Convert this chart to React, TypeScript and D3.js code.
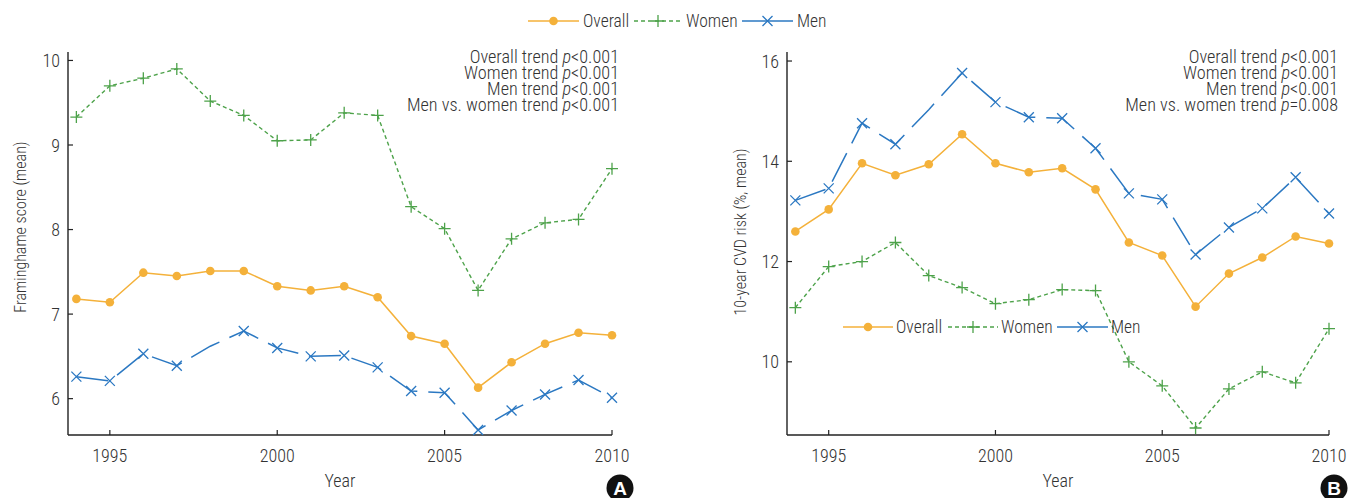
import React from "react";
import * as d3 from "d3";

const years = [1994, 1995, 1996, 1997, 1998, 1999, 2000, 2001, 2002, 2003, 2004, 2005, 2006, 2007, 2008, 2009, 2010];
const xTicks = [1995, 2000, 2005, 2010];

const framOverall = [7.18, 7.14, 7.49, 7.45, 7.51, 7.51, 7.33, 7.28, 7.33, 7.2, 6.74, 6.65, 6.13, 6.43, 6.65, 6.78, 6.75];
const framWomen = [9.33, 9.7, 9.79, 9.9, 9.52, 9.35, 9.05, 9.06, 9.38, 9.35, 8.27, 8.01, 7.28, 7.89, 8.08, 8.12, 8.72];
const framMen = [6.26, 6.21, 6.53, 6.39, 6.62, 6.8, 6.6, 6.5, 6.51, 6.37, 6.09, 6.07, 5.63, 5.86, 6.05, 6.22, 6.01];
const framTicks = [6, 7, 8, 9, 10];

const cvdOverall = [12.6, 13.04, 13.96, 13.72, 13.94, 14.54, 13.96, 13.78, 13.86, 13.44, 12.38, 12.12, 11.1, 11.76, 12.08, 12.5, 12.36];
const cvdWomen = [11.08, 11.9, 12.0, 12.38, 11.72, 11.48, 11.16, 11.24, 11.44, 11.42, 10.0, 9.52, 8.68, 9.46, 9.8, 9.58, 10.66];
const cvdMen = [13.22, 13.46, 14.76, 14.34, 15.03, 15.76, 15.18, 14.88, 14.86, 14.26, 13.36, 13.24, 12.14, 12.68, 13.06, 13.68, 12.96];
const cvdTicks = [10, 12, 14, 16];

const seriesNames = ["Overall", "Women", "Men"];
const notes = ["Overall trend", "Women trend", "Men trend", "Men vs. women trend"];
const pA = ["<0.001", "<0.001", "<0.001", "<0.001"];
const pB = ["<0.001", "<0.001", "<0.001", "=0.008"];

const C_OVERALL = "#F4B13A";
const C_WOMEN = "#4DA24A";
const C_MEN = "#2B78C2";
const FONT = "'Liberation Sans Narrow', 'Roboto Condensed', 'Arial Narrow', Roboto, sans-serif";
const TXT = "#333";
const FW = 300;

let _ctx: CanvasRenderingContext2D | null = null;
function measure(s: string, size: number, italic = false): number {
  if (typeof document === "undefined") return s.length * size * 0.45;
  if (!_ctx) _ctx = document.createElement("canvas").getContext("2d");
  if (!_ctx) return s.length * size * 0.45;
  _ctx.font = `${italic ? "italic " : ""}${FW} ${size}px ${FONT}`;
  return _ctx.measureText(s).width;
}

function Marker({ kind, x, y }: { kind: string; x: number; y: number }) {
  if (kind === "Overall") return <circle cx={x} cy={y} r={4.3} fill={C_OVERALL} />;
  if (kind === "Women")
    return <path d={`M${x - 6},${y}H${x + 6}M${x},${y - 6}V${y + 6}`} stroke={C_WOMEN} strokeWidth={1.3} fill="none" />;
  return (
    <path d={`M${x - 5},${y - 5}L${x + 5},${y + 5}M${x - 5},${y + 5}L${x + 5},${y - 5}`} stroke={C_MEN} strokeWidth={1.3} fill="none" />
  );
}

const styleOf: Record<string, { color: string; dash?: string; width: number }> = {
  Overall: { color: C_OVERALL, width: 1.5 },
  Women: { color: C_WOMEN, dash: "4,3", width: 1.4 },
  Men: { color: C_MEN, dash: "32,11", width: 1.5 },
};

function Legend({ y, spacing, gap }: { y: number; spacing: number[]; gap: number }) {
  const items = seriesNames.map((n, i) => ({ n, ls: spacing[i * 2], tx: spacing[i * 2 + 1] }));
  return (
    <g transform={`translate(0,${y})`}>
      {items.map(({ n, ls, tx }) => {
        const st = styleOf[n];
        const len = tx - ls - gap;
        return (
          <g key={n}>
            <line x1={ls} x2={ls + len} y1={0} y2={0} stroke={st.color} strokeWidth={1.6} strokeDasharray={n === "Women" ? "4,3" : undefined} />
            <Marker kind={n} x={ls + len / 2} y={0} />
            <text x={tx} y={6} fontSize={17.5} fontWeight={FW} fill={TXT} fontFamily={FONT}>{n}</text>
          </g>
        );
      })}
    </g>
  );
}

function Panel(props: {
  left: number; right: number; top: number; bottom: number;
  yDomain: [number, number]; yTicks: number[];
  overall: number[]; women: number[]; men: number[];
  yLabel: string; pvals: string[]; letter: string; yLabelX: number; yLabelY: number; noteX: number; letterX: number;
}) {
  const { left, right, top, bottom, yDomain, yTicks, overall, women, men, yLabel, pvals, letter, yLabelX, yLabelY, noteX, letterX } = props;
  const x = d3.scaleLinear().domain([1993.75, 2010]).range([left, right]);
  const y = d3.scaleLinear().domain(yDomain).range([bottom, top]);
  const line = d3.line<number>().x((_, i) => x(years[i])).y((d) => y(d));
  const data: Record<string, number[]> = { Overall: overall, Women: women, Men: men };
  const NS = 18.2;
  return (
    <g>
      <line x1={left} x2={left} y1={top} y2={bottom} stroke="#222" strokeWidth={1.4} />
      <line x1={left} x2={right} y1={bottom} y2={bottom} stroke="#222" strokeWidth={1.4} />
      {yTicks.map((t) => (
        <g key={t}>
          <line x1={left} x2={left + 5} y1={y(t)} y2={y(t)} stroke="#222" strokeWidth={1.2} />
          <text x={left - 8} y={y(t) + 6.5} textAnchor="end" fontSize={18} fontWeight={FW} fill={TXT} fontFamily={FONT}>{t}</text>
        </g>
      ))}
      {xTicks.map((t) => (
        <g key={t}>
          <line x1={x(t)} x2={x(t)} y1={bottom} y2={bottom - 5} stroke="#222" strokeWidth={1.2} />
          <text x={x(t)} y={bottom + 27} textAnchor="middle" fontSize={18} fontWeight={FW} fill={TXT} fontFamily={FONT}>{t}</text>
        </g>
      ))}
      <text x={(left + right) / 2} y={bottom + 52} textAnchor="middle" fontSize={18} fontWeight={FW} fill={TXT} fontFamily={FONT}>Year</text>
      <text transform={`translate(${yLabelX},${yLabelY}) rotate(-90)`} textAnchor="middle" fontSize={16} fontWeight={FW} fill={TXT} fontFamily={FONT}>
        {yLabel}
      </text>
      {["Men", "Women", "Overall"].map((n) => {
        const st = styleOf[n];
        return (
          <g key={n}>
            <path d={line(data[n]) || ""} fill="none" stroke={st.color} strokeWidth={st.width} strokeDasharray={st.dash} />
            {data[n].map((v, i) => (n === "Men" && i === 4 ? null : <Marker key={i} kind={n} x={x(years[i])} y={y(v)} />))}
          </g>
        );
      })}
      {notes.map((s, i) => {
        const yy = 63 + i * 16;
        const wp = measure(pvals[i], NS);
        const wI = measure("p", NS, true);
        const wS = measure(" ", NS);
        return (
          <g key={i}>
            <text x={noteX} y={yy} textAnchor="end" fontSize={NS} fontWeight={FW} fill={TXT} fontFamily={FONT}>{pvals[i]}</text>
            <text x={noteX - wp} y={yy} textAnchor="end" fontSize={NS} fontWeight={FW} fontStyle="italic" fill={TXT} fontFamily={FONT}>p</text>
            <text x={noteX - wp - wI - wS} y={yy} textAnchor="end" fontSize={NS} fontWeight={FW} fill={TXT} fontFamily={FONT}>{s}</text>
          </g>
        );
      })}
      <circle cx={letterX} cy={488} r={13.5} fill="#111" />
      <text x={letterX} y={495} textAnchor="middle" fontSize={19} fontWeight="bold" fill="#fff" fontFamily="'Liberation Sans', Arial, sans-serif">{letter}</text>
    </g>
  );
}

export default function App() {
  return (
    <svg width={1348} height={498} style={{ position: "absolute", left: 0, top: 0, background: "#fff" }}>
      <Legend y={21} spacing={[528, 583, 634, 686, 742, 797]} gap={4} />
      <Panel
        left={68} right={612} top={52} bottom={435}
        yDomain={[5.57, 10.1]} yTicks={framTicks}
        overall={framOverall} women={framWomen} men={framMen}
        yLabel="Framinghame score (mean)" pvals={pA} letter="A" yLabelX={26} yLabelY={227} noteX={619} letterX={620}
      />
      <Panel
        left={787} right={1329} top={52} bottom={435}
        yDomain={[8.54, 16.18]} yTicks={cvdTicks}
        overall={cvdOverall} women={cvdWomen} men={cvdMen}
        yLabel="10-year CVD risk (%, mean)" pvals={pB} letter="B" yLabelX={746} yLabelY={232} noteX={1338} letterX={1334}
      />
      <Legend y={327} spacing={[843, 896, 948, 1001, 1057, 1111]} gap={3} />
    </svg>
  );
}
